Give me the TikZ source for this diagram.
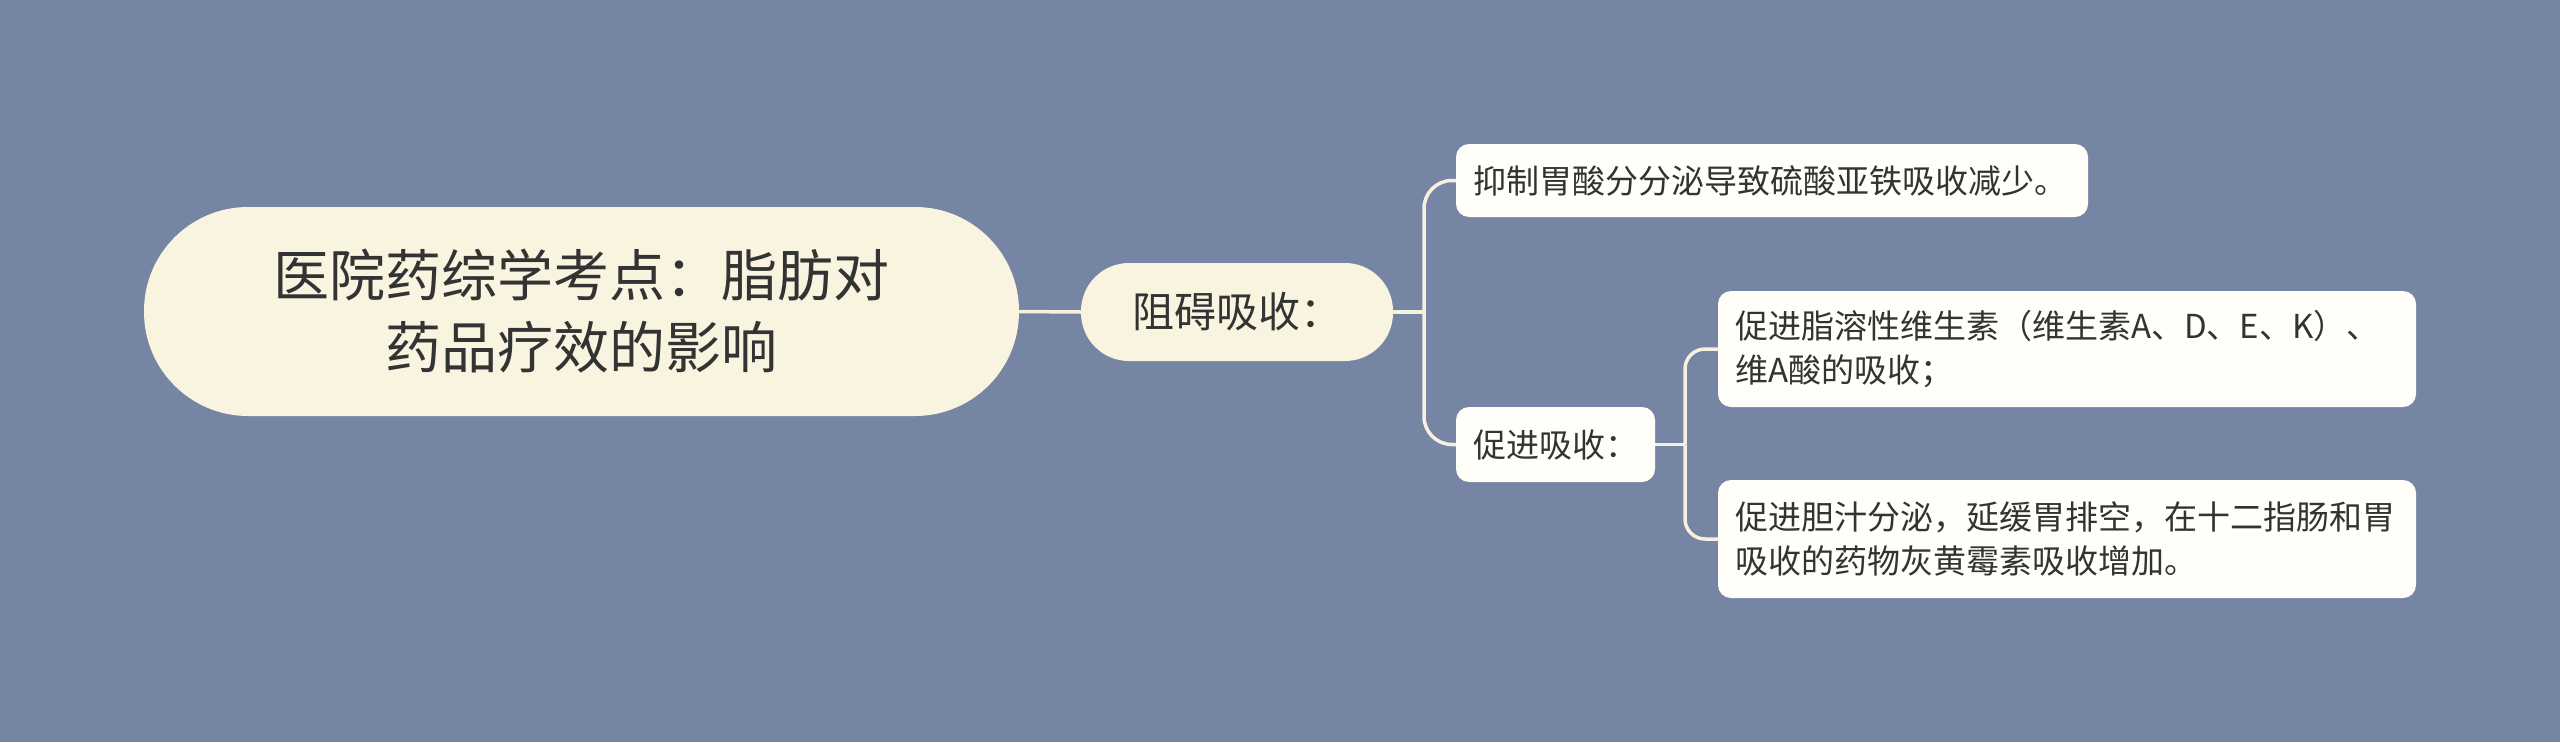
\documentclass[tikz,border=0pt]{standalone}
\usepackage{fontspec}
\setmainfont{Noto Sans CJK SC}
\definecolor{bg}{RGB}{119,133,164}
\definecolor{cream}{RGB}{248,244,223}
\definecolor{leafc}{RGB}{255,254,248}
\definecolor{ink}{RGB}{51,51,51}
\definecolor{wirec}{RGB}{245,241,222}
\tikzset{
  rootbox/.style={fill=cream, rounded corners=104pt, minimum width=875pt, minimum height=209pt,
    inner sep=0pt, align=center, text=ink, font=\fontsize{56}{72}\selectfont},
  mainbox/.style={fill=cream, rounded corners=48pt, minimum width=312pt, minimum height=98pt,
    inner sep=0pt, text=ink, font=\fontsize{42}{52}\selectfont},
  leafbox/.style={fill=leafc, rounded corners=13pt, inner xsep=17pt, inner ysep=0pt,
    align=left, text=ink, font=\fontsize{33}{44}\selectfont},
  wire/.style={draw=wirec, line width=3.5pt},
}
\begin{document}
\begin{tikzpicture}[x=1pt,y=-1pt]
\fill[bg] (0,0) rectangle (2560,742);
\useasboundingbox (0,0) rectangle (2560,742);

\node[rootbox] (root) at (581.5,311.5) {医院药综学考点：脂肪对\\药品疗效的影响};
\node[mainbox] (zu) at (1237,312) {阻碍吸收：};
\node[leafbox, text width=598pt, minimum height=73pt] (yi) at (1772,180.5) {抑制胃酸分分泌导致硫酸亚铁吸收减少。};
\node[leafbox, text width=165pt, minimum height=75pt] (cj) at (1555.5,444.5) {促进吸收：};
\node[leafbox, text width=664pt, minimum height=116pt] (z1) at (2067,349) {促进脂溶性维生素（维生素A、D、E、K）、\\维A酸的吸收；};
\node[leafbox, text width=664pt, minimum height=118pt] (z2) at (2067,539) {促进胆汁分泌，延缓胃排空，在十二指肠和胃\\吸收的药物灰黄霉素吸收增加。};

\coordinate (b1) at (1424,312);
\coordinate (b2) at (1685,444.5);
\draw[wire] (root.east) -- (zu.west);
\draw[wire] (zu.east) -- (b1);
\draw[wire, rounded corners=28pt] (b1) |- (yi.west);
\draw[wire, rounded corners=28pt] (b1) |- (cj.west);
\draw[wire] (cj.east) -- (b2);
\draw[wire, rounded corners=20pt] (b2) |- (z1.west);
\draw[wire, rounded corners=20pt] (b2) |- (z2.west);
\end{tikzpicture}
\end{document}
